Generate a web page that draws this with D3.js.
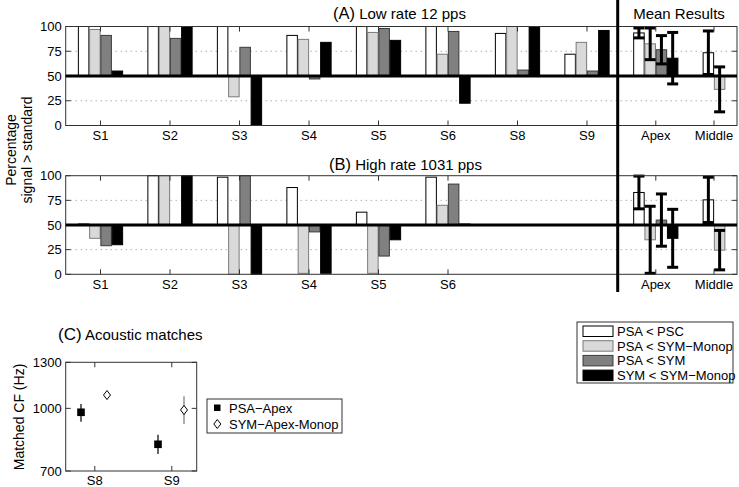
<!DOCTYPE html>
<html><head><meta charset="utf-8">
<script src="https://cdn.jsdelivr.net/npm/d3@7"></script>
<style>
body{margin:0;background:#fff}
svg{display:block}
text{font-family:"Liberation Sans",Arial,Helvetica,sans-serif;fill:#000}
</style>
</head><body>
<svg id="chart" width="739" height="487"></svg>
<script>
// ---------- DATA ----------
const seriesNames = ["PSA < PSC", "PSA < SYM\u2212Monop", "PSA < SYM", "SYM < SYM\u2212Monop"];
const yTicks = [0, 25, 50, 75, 100];

// (A) Low rate 12 pps
const subjectsLow = ["S1", "S2", "S3", "S4", "S5", "S6", "S8", "S9"];
const lowPSAvsPSC      = [100, 100, 100, 91, 100, 100, 93, 72];
const lowPSAvsSYMMonop = [97, 100, 29, 87, 94, 72, 100, 84];
const lowPSAvsSYM      = [91, 88, 79, 47, 98, 95, 56, 55];
const lowSYMvsSYMMonop = [55, 100, 0, 84, 86, 22.5, 100, 96];

// (B) High rate 1031 pps
const subjectsHigh = ["S1", "S2", "S3", "S4", "S5", "S6"];
const highPSAvsPSC      = [51, 100, 98.5, 88, 63, 98.5];
const highPSAvsSYMMonop = [36.5, 100, 0, 1, 1, 70];
const highPSAvsSYM      = [29, 50, 100, 43, 18.5, 91.5];
const highSYMvsSYMMonop = [30, 100, 0, 1, 35, 51];

// Mean results
const meanGroups = ["Apex", "Middle"];
const lowMeanApex   = [93.5, 82.5, 76.5, 68];
const lowErrApex    = [5, 16, 14.3, 26];
const lowMeanMiddle = [73.5, 36.5];
const lowErrMiddle  = [22, 22.7];
const highMeanApex   = [83, 35, 55, 36.5];
const highErrApex    = [16.6, 34, 26.5, 29.4];
const highMeanMiddle = [75.5, 24.5];
const highErrMiddle  = [23, 20];

// (C) Acoustic matches
const acousticSubjects = ["S8", "S9"];
const cfTicks = [700, 1000, 1300];
const psaApexCF   = [978, 815];
const psaApexLo   = [927, 771];
const psaApexHi   = [1025, 860];
const symApexCF   = [1079, 991];
const symApexLo   = [1053, 915];
const symApexHi   = [1100, 1071];
const acousticLegend = ["PSA\u2212Apex", "SYM\u2212Apex-Monop"];

// ---------- STYLE / LAYOUT ----------
const fills   = ["#ffffff", "#d9d9d9", "#808080", "#000000"];
const strokes = ["#000000", "#7a7a7a", "#3a3a3a", "#000000"];
const FONT_TICK = 13;
const svg = d3.select("#chart");

const frameL = 65.7, frameR = 737, divX = 617.7;
const xSub  = d3.scalePoint().domain(subjectsLow).range([100.5, 587]);
const xMean = d3.scalePoint().domain(meanGroups).range([655.8, 714]);
const barStep = 11.25, barW = 10.5;

const yA = d3.scaleLinear().domain([0, 100]).range([125.5, 26.5]);
const yB = d3.scaleLinear().domain([0, 100]).range([274.3, 175.7]);

function drawPanel(y, subjects, seriesData, means, errs) {
  const g = svg.append("g");
  const top = y(100), bot = y(0);
  [25, 75].forEach(v => {
    g.append("line").attr("x1", frameL).attr("x2", frameR)
      .attr("y1", y(v)).attr("y2", y(v))
      .attr("stroke", "#8c8c8c").attr("stroke-width", 1)
      .attr("stroke-dasharray", "1,4");
  });
  seriesData.forEach((arr, s) => {
    arr.forEach((v, i) => {
      if (v == null) return;
      const cx = xSub(subjects[i]);
      const x0 = cx - 2 * barStep + s * barStep + (barStep - barW) / 2;
      const y0 = y(50), y1 = y(v);
      g.append("rect").attr("x", x0).attr("width", barW)
        .attr("y", Math.min(y0, y1)).attr("height", Math.abs(y1 - y0))
        .attr("fill", fills[s]).attr("stroke", strokes[s]).attr("stroke-width", 1);
    });
  });
  meanGroups.forEach((grp, gi) => {
    const vals = means[gi], ers = errs[gi];
    const n = vals.length;
    const cx = xMean(grp);
    vals.forEach((v, s) => {
      const x0 = cx - n * barStep / 2 + s * barStep + (barStep - barW) / 2;
      const y0 = y(50), y1 = y(v);
      g.append("rect").attr("x", x0).attr("width", barW)
        .attr("y", Math.min(y0, y1)).attr("height", Math.abs(y1 - y0))
        .attr("fill", fills[s]).attr("stroke", strokes[s]).attr("stroke-width", 1);
    });
    vals.forEach((v, s) => {
      const xc = cx - n * barStep / 2 + s * barStep + barStep / 2;
      const lo = y(v - ers[s]), hi = y(v + ers[s]);
      g.append("line").attr("x1", xc).attr("x2", xc).attr("y1", lo).attr("y2", hi)
        .attr("stroke", "#000").attr("stroke-width", 3);
      [lo, hi].forEach(yy => g.append("line").attr("x1", xc - 5.5).attr("x2", xc + 5.5)
        .attr("y1", yy).attr("y2", yy).attr("stroke", "#000").attr("stroke-width", 3));
    });
  });
  g.append("rect").attr("x", frameL).attr("y", top).attr("width", frameR - frameL)
    .attr("height", bot - top).attr("fill", "none").attr("stroke", "#333").attr("stroke-width", 1);
  yTicks.forEach(v => {
    g.append("line").attr("x1", frameL).attr("x2", frameL + 5).attr("y1", y(v)).attr("y2", y(v)).attr("stroke", "#333");
    g.append("line").attr("x1", frameR - 5).attr("x2", frameR).attr("y1", y(v)).attr("y2", y(v)).attr("stroke", "#333");
    g.append("text").attr("x", frameL - 4).attr("y", y(v) + 4.5).attr("text-anchor", "end")
      .attr("font-size", FONT_TICK).text(v);
  });
  const xt = subjects.map(s => ({x: xSub(s), t: s})).concat(meanGroups.map(m => ({x: xMean(m), t: m})));
  xt.forEach(d => {
    g.append("line").attr("x1", d.x).attr("x2", d.x).attr("y1", bot).attr("y2", bot - 5).attr("stroke", "#333");
    g.append("line").attr("x1", d.x).attr("x2", d.x).attr("y1", top).attr("y2", top + 5).attr("stroke", "#333");
    g.append("text").attr("x", d.x).attr("y", bot + 14.5).attr("text-anchor", "middle")
      .attr("font-size", FONT_TICK).text(d.t);
  });
  g.append("line").attr("x1", frameL).attr("x2", frameR).attr("y1", y(50)).attr("y2", y(50))
    .attr("stroke", "#000").attr("stroke-width", 3);
}

drawPanel(yA, subjectsLow,
  [lowPSAvsPSC, lowPSAvsSYMMonop, lowPSAvsSYM, lowSYMvsSYMMonop],
  [lowMeanApex, lowMeanMiddle], [lowErrApex, lowErrMiddle]);
drawPanel(yB, subjectsHigh,
  [highPSAvsPSC, highPSAvsSYMMonop, highPSAvsSYM, highSYMvsSYMMonop],
  [highMeanApex, highMeanMiddle], [highErrApex, highErrMiddle]);

svg.append("line").attr("x1", divX).attr("x2", divX).attr("y1", 0).attr("y2", 292)
  .attr("stroke", "#000").attr("stroke-width", 3);

function title(x, y, lab, rest) {
  const t = svg.append("text").attr("x", x).attr("y", y).attr("font-size", 15);
  t.append("tspan").attr("font-size", 16.5).text(lab);
  t.append("tspan").text(" " + rest);
}
title(333, 19, "(A)", "Low rate 12 pps");
title(329, 169.5, "(B)", "High rate 1031 pps");
svg.append("text").attr("x", 679).attr("y", 19).attr("text-anchor", "middle").attr("font-size", 15).text("Mean Results");

const yl = svg.append("text").attr("transform", "translate(0,150) rotate(-90)")
  .attr("text-anchor", "middle").attr("font-size", 14);
yl.append("tspan").attr("x", 0).attr("y", 16).text("Percentage");
yl.append("tspan").attr("x", 0).attr("y", 32).text("signal > standard");

const lg = svg.append("g");
lg.append("rect").attr("x", 577).attr("y", 322).attr("width", 156).attr("height", 61)
  .attr("fill", "#fff").attr("stroke", "#333").attr("stroke-width", 1);
seriesNames.forEach((nm, s) => {
  const yy = 326 + s * 14.7;
  lg.append("rect").attr("x", 583).attr("y", yy).attr("width", 30).attr("height", 10.5)
    .attr("fill", fills[s]).attr("stroke", strokes[s]);
  lg.append("text").attr("x", 617).attr("y", yy + 10).attr("font-size", 13).text(nm);
});

// ---------- (C) ----------
const cL = 65.7, cR = 196.7, cT = 362.3, cB = 471;
const xC = d3.scalePoint().domain(acousticSubjects).range([94.8, 171.8]);
const yC = d3.scaleLog().domain([700, 1300]).range([cB, cT]);
const gc = svg.append("g");
gc.append("rect").attr("x", cL).attr("y", cT).attr("width", cR - cL).attr("height", cB - cT)
  .attr("fill", "none").attr("stroke", "#333");
cfTicks.forEach(v => {
  gc.append("line").attr("x1", cL).attr("x2", cL + 5).attr("y1", yC(v)).attr("y2", yC(v)).attr("stroke", "#333");
  gc.append("line").attr("x1", cR - 5).attr("x2", cR).attr("y1", yC(v)).attr("y2", yC(v)).attr("stroke", "#333");
  gc.append("text").attr("x", cL - 4).attr("y", yC(v) + 4.5).attr("text-anchor", "end")
    .attr("font-size", FONT_TICK).text(v);
});
acousticSubjects.forEach(s => {
  const x = xC(s);
  gc.append("line").attr("x1", x).attr("x2", x).attr("y1", cB).attr("y2", cB - 5).attr("stroke", "#333");
  gc.append("line").attr("x1", x).attr("x2", x).attr("y1", cT).attr("y2", cT + 5).attr("stroke", "#333");
  gc.append("text").attr("x", x).attr("y", cB + 14).attr("text-anchor", "middle")
    .attr("font-size", FONT_TICK).text(s);
});
acousticSubjects.forEach((s, i) => {
  const xs = xC(s) - 13.8, xd = xC(s) + 12.2;
  gc.append("line").attr("x1", xs).attr("x2", xs).attr("y1", yC(psaApexLo[i])).attr("y2", yC(psaApexHi[i]))
    .attr("stroke", "#000").attr("stroke-width", 1.2);
  gc.append("rect").attr("x", xs - 3.8).attr("y", yC(psaApexCF[i]) - 3.8).attr("width", 7.6).attr("height", 7.6)
    .attr("fill", "#000");
  gc.append("line").attr("x1", xd).attr("x2", xd).attr("y1", yC(symApexLo[i])).attr("y2", yC(symApexHi[i]))
    .attr("stroke", "#777").attr("stroke-width", 1.2);
  const yd = yC(symApexCF[i]);
  gc.append("path").attr("d", `M${xd},${yd - 4.5}L${xd + 3.5},${yd}L${xd},${yd + 4.5}L${xd - 3.5},${yd}Z`)
    .attr("fill", "#fff").attr("stroke", "#000").attr("stroke-width", 1);
});
svg.append("text").attr("transform", "translate(24,417) rotate(-90)").attr("text-anchor", "middle")
  .attr("font-size", 14).text("Matched CF (Hz)");
const ct = svg.append("text").attr("x", 58).attr("y", 340).attr("font-size", 15);
ct.append("tspan").attr("font-size", 17).text("(C)");
ct.append("tspan").text(" Acoustic matches");

const lc = svg.append("g");
lc.append("rect").attr("x", 207).attr("y", 399).attr("width", 135).attr("height", 34)
  .attr("fill", "#fff").attr("stroke", "#333");
lc.append("rect").attr("x", 214).attr("y", 404.5).attr("width", 6.5).attr("height", 6.5).attr("fill", "#000");
lc.append("path").attr("d", "M217.3,419.5L220.8,424L217.3,428.5L213.8,424Z").attr("fill", "#fff").attr("stroke", "#000");
lc.append("text").attr("x", 229).attr("y", 412.5).attr("font-size", 13).text(acousticLegend[0]);
lc.append("text").attr("x", 229).attr("y", 428.5).attr("font-size", 13).text(acousticLegend[1]);
</script>
</body></html>
